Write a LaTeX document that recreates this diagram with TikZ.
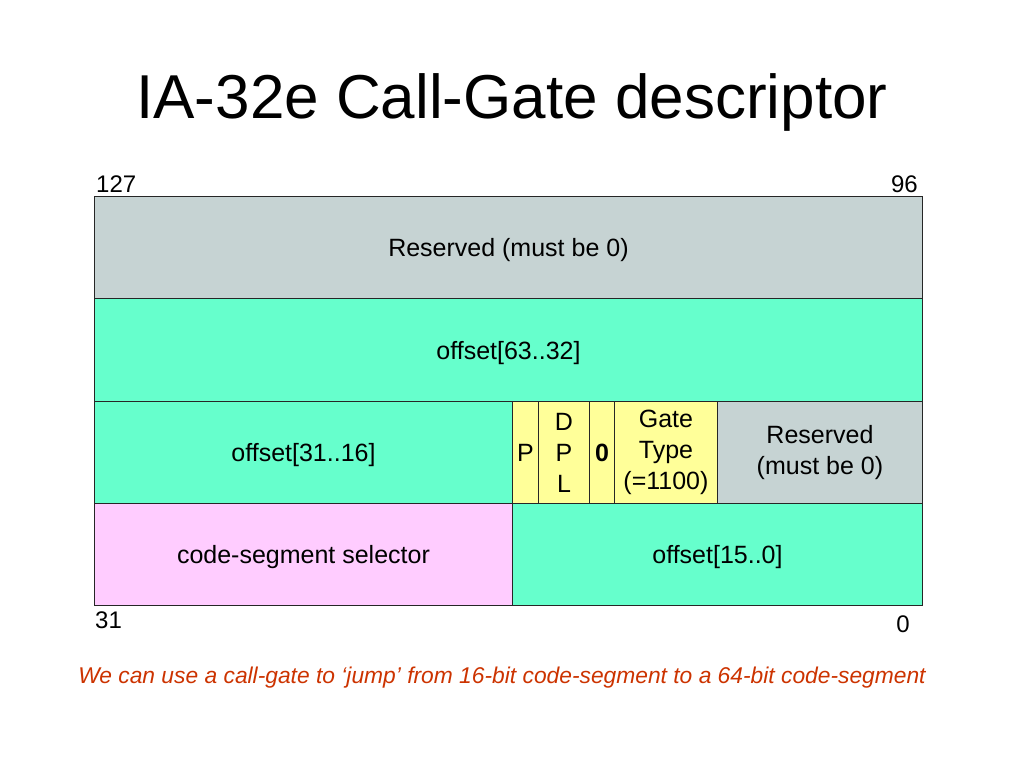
\documentclass[tikz,border=0pt]{standalone}
\usepackage{fontspec}
\setmainfont{Liberation Sans}
\definecolor{resgrey}{RGB}{198,211,211}
\definecolor{aqua}{RGB}{102,255,204}
\definecolor{lyellow}{RGB}{255,255,153}
\definecolor{lpink}{RGB}{255,204,255}
\definecolor{capred}{RGB}{204,51,0}
\tikzset{
  cell/.style={draw=black!85, line width=0.9pt, inner sep=0pt, anchor=north west, align=center,
    font=\fontsize{25}{31}\selectfont},
  oneline/.style={text depth=0pt},
  bitlabel/.style={inner sep=0pt, font=\fontsize{24}{28}\selectfont},
}
\begin{document}
\begin{tikzpicture}[x=1pt,y=-1pt]
\useasboundingbox (0,0) rectangle (1024,768);
% title
\node[inner sep=0pt, anchor=base, font=\fontsize{62}{70}\selectfont] (title) at (512,118) {IA-32e Call-Gate descriptor};
% row 1
\node[cell, oneline, fill=resgrey, minimum width=828pt, minimum height=102pt] (res1) at (94,196) {Reserved (must be 0)};
% row 2
\node[cell, oneline, fill=aqua, minimum width=828pt, minimum height=103pt] (off6332) at (94,298) {offset[63..32]};
% row 3
\node[cell, oneline, fill=aqua, minimum width=418pt, minimum height=102pt] (off3116) at (94,401) {offset[31..16]};
\node[cell, oneline, fill=lyellow, minimum width=26pt, minimum height=102pt] (pbit) at (512,401) {P};
\node[cell, fill=lyellow, minimum width=51pt, minimum height=102pt] (dpl) at (538,401) {D\\P\\L};
\node[cell, oneline, fill=lyellow, minimum width=25pt, minimum height=102pt] (zero) at (589,401) {\textbf{0}};
\node[cell, fill=lyellow, minimum width=103pt, minimum height=102pt] (gtype) at (614,401) {Gate\\Type\\(=1100)};
\node[cell, fill=resgrey, minimum width=205pt, minimum height=102pt] (res2) at (717,401) {Reserved\\(must be 0)};
% row 4
\node[cell, oneline, fill=lpink, minimum width=418pt, minimum height=102pt] (csel) at (94,503) {code-segment selector};
\node[cell, oneline, fill=aqua, minimum width=410pt, minimum height=102pt] (off150) at (512,503) {offset[15..0]};
% bit labels
\node[bitlabel, anchor=base west] (b127) at (96,192) {127};
\node[bitlabel, anchor=base east] (b96) at (918,192) {96};
\node[bitlabel, anchor=base west] (b31) at (95,628) {31};
\node[bitlabel, anchor=base east] (b0) at (910,632) {0};
% caption
\node[inner sep=0pt, anchor=base, text=capred, font=\fontsize{22.8}{26}\selectfont\itshape] (caption) at (502,683) {We can use a call-gate to ‘jump’ from 16-bit code-segment to a 64-bit code-segment};
\end{tikzpicture}
\end{document}
